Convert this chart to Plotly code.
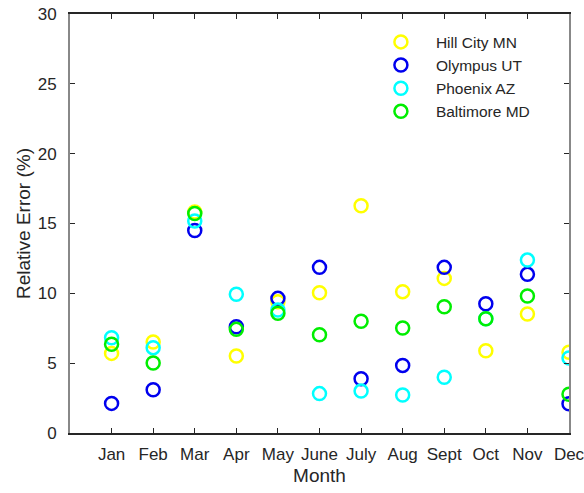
import plotly.graph_objects as go

months = ["Jan", "Feb", "Mar", "Apr", "May", "June", "July", "Aug", "Sept", "Oct", "Nov", "Dec"]
month_pos = list(range(1, 13))

hill_city_mn = [5.70, 6.51, 15.82, 5.51, 9.40, 10.04, 16.27, 10.12, 11.07, 5.89, 8.52, 5.78]
olympus_ut = [2.12, 3.10, 14.50, 7.61, 9.64, 11.86, 3.89, 4.84, 11.86, 9.26, 11.36, 2.10]
phoenix_az = [6.82, 6.11, 15.18, 9.93, 8.80, 2.82, 3.00, 2.72, 3.99, 8.18, 12.38, 5.37]
baltimore_md = [6.35, 5.01, 15.72, 7.42, 8.57, 7.04, 8.00, 7.52, 9.04, 8.18, 9.81, 2.77]

series = [
    ("Hill City MN", hill_city_mn, "#ffff00"),
    ("Olympus UT", olympus_ut, "#0000ee"),
    ("Phoenix AZ", phoenix_az, "#00ffff"),
    ("Baltimore MD", baltimore_md, "#00ee00"),
]

fig = go.Figure()
for name, vals, color in series:
    fig.add_trace(go.Scatter(
        x=month_pos, y=vals, mode="markers", name=name,
        marker=dict(symbol="circle-open", size=13, color=color,
                    line=dict(width=2.5, color=color)),
    ))

font_family = "Liberation Sans, Arial, sans-serif"

fig.update_layout(
    width=584, height=493,
    margin=dict(l=70, r=15, t=14, b=60),
    plot_bgcolor="white", paper_bgcolor="white",
    font=dict(family=font_family, color="#262626", size=17),
    showlegend=True,
    legend=dict(
        x=0.593, y=0.973, xanchor="left", yanchor="top",
        bgcolor="rgba(0,0,0,0)", borderwidth=0,
        font=dict(size=15.5, color="#262626"),
        itemwidth=60, tracegroupgap=0,
    ),
    xaxis=dict(
        range=[0, 12], tickvals=month_pos, ticktext=months,
        showgrid=False, zeroline=False, automargin=False,
        ticklabeloverflow="allow",
        showline=True, linecolor="#262626", linewidth=1.5, mirror="ticks",
        ticks="inside", ticklen=5, tickcolor="#262626", tickwidth=1,
        ticklabelstandoff=5,
        title=dict(text="Month", font=dict(size=19), standoff=6),
    ),
    yaxis=dict(
        range=[0, 30], tickvals=[0, 5, 10, 15, 20, 25, 30],
        showgrid=False, zeroline=False, automargin=False,
        showline=True, linecolor="#888888", linewidth=2, mirror="ticks",
        ticks="inside", ticklen=5, tickcolor="#262626", tickwidth=1,
        ticklabelstandoff=8,
        title=dict(text="Relative Error (%)", font=dict(size=19), standoff=2),
    ),
)

fig.write_html("out.html")
